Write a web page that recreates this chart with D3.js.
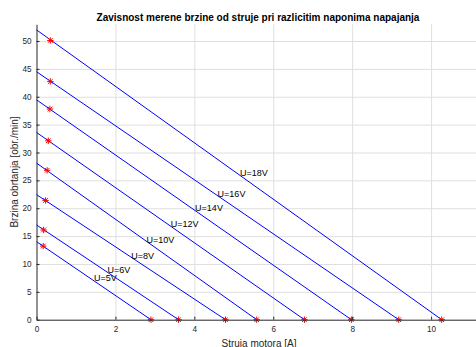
<!DOCTYPE html>
<html>
<head>
<meta charset="utf-8">
<script src="https://cdn.jsdelivr.net/npm/d3@7"></script>
<style>
    body { margin: 0; background: #fff; }
    svg { display: block; font-family: "Liberation Sans", Arial, sans-serif; }
    .axis path, .axis line { stroke: #262626; }
    .axis text { fill: #262626; font-size: 8.2px; }
    .grid line { stroke: #dfdfdf; }
    .grid path { stroke: none; }
</style>
</head>
<body>
<div id="chart"></div>
<script>
// Data
var voltages = [5, 6, 8, 10, 12, 14, 16, 18];
var speedAtZero = [14.0, 17.0, 22.45, 28.1, 33.6, 39.45, 44.5, 52.0];
var stallCurrent = [2.9, 3.6, 4.79, 5.58, 6.79, 7.98, 9.18, 10.27];
var measCurrent = [0.17, 0.18, 0.23, 0.27, 0.30, 0.34, 0.35, 0.35];
var measSpeed = [13.2, 16.1, 21.4, 26.8, 32.1, 37.8, 42.75, 50.1];
var labelX = [1.46, 1.80, 2.40, 2.79, 3.40, 4.02, 4.59, 5.16];
var labelY = [7.43, 8.9, 11.5, 14.31, 17.19, 19.99, 22.6, 26.3];
var xTicks = [0, 2, 4, 6, 8, 10];
var yTicks = [0, 5, 10, 15, 20, 25, 30, 35, 40, 45, 50];

function init() {
    var w = 476;
    var h = 347;
    var left = 36.5, right = 510, top = 24.3, bottom = 319.7;

    var svg = d3.select("#chart")
        .append("svg")
        .attr("width", w)
        .attr("height", h);

    var xScale = d3.scaleLinear().domain([0, 12]).range([left, right]);
    var yScale = d3.scaleLinear().domain([0, 53]).range([bottom, top]);

    // Grid lines
    svg.append("g")
        .attr("class", "grid")
        .attr("transform", `translate(0, ${bottom})`)
        .call(d3.axisBottom(xScale).tickValues(xTicks.slice(1)).tickSize(-(bottom - top)).tickFormat(""));
    svg.append("g")
        .attr("class", "grid")
        .attr("transform", `translate(${left}, 0)`)
        .call(d3.axisLeft(yScale).tickValues(yTicks.slice(1)).tickSize(-(right - left)).tickFormat(""));

    // Lines
    var lines = voltages.map((v, i) => [[0, speedAtZero[i]], [stallCurrent[i], 0]]);
    var line = d3.line().x(d => xScale(d[0])).y(d => yScale(d[1]));
    svg.selectAll(".motor")
        .data(lines)
        .enter()
        .append("path")
        .attr("class", "motor")
        .attr("d", line)
        .attr("fill", "none")
        .attr("stroke", "#0000ff")
        .attr("stroke-width", 1);

    // Red asterisks
    var pts = [];
    voltages.forEach((v, i) => {
        pts.push([measCurrent[i], measSpeed[i]]);
        pts.push([stallCurrent[i], 0]);
    });
    var r = 3.2, q = r * 0.72;
    var star = `M${-r},0L${r},0M0,${-r}L0,${r}M${-q},${-q}L${q},${q}M${-q},${q}L${q},${-q}`;
    svg.selectAll(".star")
        .data(pts)
        .enter()
        .append("path")
        .attr("class", "star")
        .attr("transform", d => `translate(${xScale(d[0])}, ${yScale(d[1])})`)
        .attr("d", star)
        .attr("fill", "none")
        .attr("stroke", "#ff0000")
        .attr("stroke-width", 1);

    // Axes
    svg.append("g")
        .attr("class", "axis")
        .attr("transform", `translate(0, ${bottom})`)
        .call(d3.axisBottom(xScale).tickValues(xTicks).tickSizeInner(-3).tickSizeOuter(0).tickPadding(6));
    svg.append("g")
        .attr("class", "axis")
        .attr("transform", `translate(${left}, 0)`)
        .call(d3.axisLeft(yScale).tickValues(yTicks).tickSizeInner(-3).tickSizeOuter(0).tickPadding(5));

    // Voltage labels
    svg.selectAll(".vlabel")
        .data(voltages)
        .enter()
        .append("text")
        .attr("class", "vlabel")
        .attr("x", (d, i) => xScale(labelX[i]))
        .attr("y", (d, i) => yScale(labelY[i]))
        .attr("dy", "0.35em")
        .attr("font-size", "9px")
        .attr("fill", "#000")
        .text(d => "U=" + d + "V");

    // Title
    svg.append("text")
        .attr("x", 258)
        .attr("y", 21)
        .attr("text-anchor", "middle")
        .attr("font-size", "10px")
        .attr("font-weight", "bold")
        .attr("fill", "#000")
        .text("Zavisnost merene brzine od struje pri razlicitim naponima napajanja");

    // X axis label
    svg.append("text")
        .attr("x", 259)
        .attr("y", 346.5)
        .attr("text-anchor", "middle")
        .attr("font-size", "10px")
        .attr("fill", "#262626")
        .text("Struja motora [A]");

    // Y axis label
    svg.append("text")
        .attr("transform", `translate(18, ${(top + bottom) / 2}) rotate(-90)`)
        .attr("text-anchor", "middle")
        .attr("font-size", "10px")
        .attr("fill", "#262626")
        .text("Brzina obrtanja [obr./min]");
}

window.onload = init;
</script>
</body>
</html>
